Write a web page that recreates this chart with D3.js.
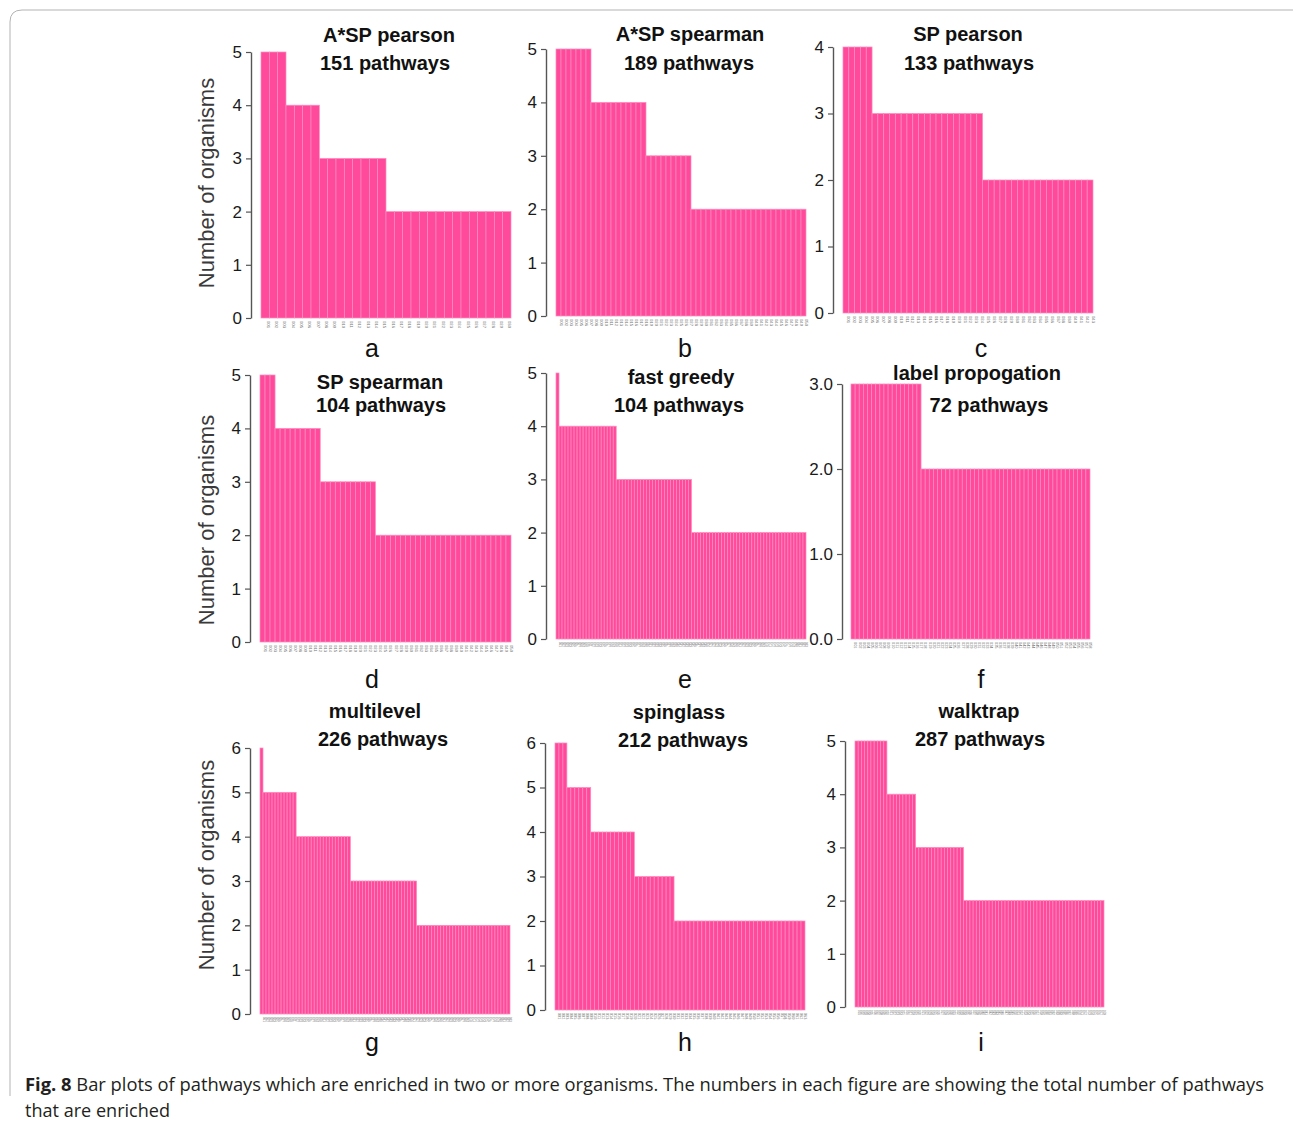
<!DOCTYPE html>
<html>
<head>
<meta charset="utf-8">
<script src="https://cdn.jsdelivr.net/npm/d3@7"></script>
<style>
  html, body { margin: 0; padding: 0; background: #fff; }
  svg { display: block; }
</style>
</head>
<body>
<svg id="fig" width="1293" height="1126"></svg>
<script>
// Panel titles and totals
const panelTitles = ["A*SP pearson", "A*SP spearman", "SP pearson",
                     "SP spearman", "fast greedy", "label propogation",
                     "multilevel", "spinglass", "walktrap"];
const pathwayTotals = [151, 189, 133, 104, 104, 72, 226, 212, 287];
const panelLetters = ["a", "b", "c", "d", "e", "f", "g", "h", "i"];

// Number of organisms per pathway, stored as runs of equal values (sorted descending)
const levelValues = [
  [5, 4, 3, 2],
  [5, 4, 3, 2],
  [4, 3, 2],
  [5, 4, 3, 2],
  [5, 4, 3, 2],
  [3, 2],
  [6, 5, 4, 3, 2],
  [6, 5, 4, 3, 2],
  [5, 4, 3, 2]
];
const levelCounts = [
  [3, 4, 8, 15],
  [7, 11, 9, 23],
  [5, 19, 19],
  [3, 9, 11, 27],
  [1, 19, 25, 38],
  [17, 41],
  [1, 11, 18, 22, 31],
  [3, 6, 11, 10, 33],
  [10, 9, 15, 44]
];

// Y axis tick values per panel
const yTicks = [
  [0, 1, 2, 3, 4, 5],
  [0, 1, 2, 3, 4, 5],
  [0, 1, 2, 3, 4],
  [0, 1, 2, 3, 4, 5],
  [0, 1, 2, 3, 4, 5],
  [0, 1, 2, 3],
  [0, 1, 2, 3, 4, 5, 6],
  [0, 1, 2, 3, 4, 5, 6],
  [0, 1, 2, 3, 4, 5]
];
const tickFormats = ["d", "d", "d", "d", "d", ".1f", "d", "d", "d"];

// Panel geometry
const layout = [
  {ax: 251, y0: 318, y1: 52,  bx0: 261, bx1: 511,  t1: [389, 42],  t2: [385, 70],  lt: [372, 357], ylab: 183},
  {ax: 546, y0: 316, y1: 49,  bx0: 556, bx1: 806,  t1: [690, 41],  t2: [689, 70],  lt: [685, 357]},
  {ax: 833, y0: 313, y1: 47,  bx0: 843, bx1: 1093, t1: [968, 41],  t2: [969, 70],  lt: [981, 357]},
  {ax: 250, y0: 642, y1: 375, bx0: 260, bx1: 511,  t1: [380, 389], t2: [381, 412], lt: [372, 688], ylab: 520},
  {ax: 546, y0: 639, y1: 373, bx0: 556, bx1: 806,  t1: [681, 384], t2: [679, 412], lt: [685, 688]},
  {ax: 842, y0: 639, y1: 384, bx0: 851, bx1: 1090, t1: [977, 380], t2: [989, 412], lt: [981, 688]},
  {ax: 250, y0: 1014, y1: 748, bx0: 260, bx1: 510, t1: [375, 718], t2: [383, 746], lt: [372, 1051], ylab: 865},
  {ax: 545, y0: 1010, y1: 743, bx0: 555, bx1: 805, t1: [679, 719], t2: [683, 747], lt: [685, 1051]},
  {ax: 845, y0: 1007, y1: 741, bx0: 855, bx1: 1104, t1: [979, 718], t2: [980, 746], lt: [981, 1051]}
];

const svg = d3.select("#fig");
const sans = "'Liberation Sans', Arial, Helvetica, sans-serif";

// Figure frame (rounded top-left corner)
svg.append("path")
  .attr("d", "M10,1096 L10,22 Q10,10 22,10 L1293,10")
  .attr("fill", "none")
  .attr("stroke", "#b3b3b3")
  .attr("stroke-width", 1);

panelTitles.forEach((title, i) => {
  const L = layout[i];
  const values = [];
  levelValues[i].forEach((v, k) => {
    for (let n = 0; n < levelCounts[i][k]; n++) values.push(v);
  });
  const ids = values.map((v, j) => String(j + 1).padStart(3, "0"));

  const g = svg.append("g");
  const ticks = yTicks[i];
  const y = d3.scaleLinear()
    .domain([0, ticks[ticks.length - 1]])
    .range([L.y0, L.y1]);
  const x = d3.scaleBand()
    .domain(ids)
    .range([L.bx0, L.bx1])
    .padding(0);

  // Bars
  g.append("g").selectAll("rect")
    .data(values)
    .join("rect")
    .attr("x", (d, j) => x(ids[j]))
    .attr("y", d => y(d))
    .attr("width", x.bandwidth())
    .attr("height", d => y(0) - y(d))
    .attr("fill", "#ff4a9b")
    .attr("stroke", "#ff8cbf")
    .attr("stroke-width", 0.7);

  // Y axis
  const axis = d3.axisLeft(y)
    .tickValues(ticks)
    .tickFormat(d3.format(tickFormats[i]))
    .tickSize(5)
    .tickSizeOuter(0)
    .tickPadding(4);
  const ag = g.append("g")
    .attr("transform", `translate(${L.ax},0)`)
    .attr("font-size", 17)
    .attr("font-family", sans)
    .call(axis);
  ag.select(".domain").attr("stroke", "#555").attr("stroke-width", 1.4);
  ag.selectAll(".tick line").attr("stroke", "#555").attr("stroke-width", 1.2);
  ag.selectAll(".tick text")
    .attr("fill", "#1a1a1a")
    .attr("font-size", 17);

  // Pathway identifiers under the bars
  const fs = Math.min(x.bandwidth() * 0.95, 4.2);
  g.append("g").selectAll("text")
    .data(ids)
    .join("text")
    .attr("transform", d => `translate(${x(d) + x.bandwidth() / 2 + fs * 0.35},${L.y0 + 3}) rotate(90)`)
    .attr("fill", "#707070")
    .style("font-family", sans)
    .style("font-size", fs + "px")
    .text(d => d);

  // Titles
  g.append("text")
    .attr("x", L.t1[0]).attr("y", L.t1[1])
    .attr("text-anchor", "middle")
    .attr("fill", "#111")
    .style("font-family", sans)
    .style("font-weight", "bold")
    .style("font-size", "20px")
    .text(title);
  g.append("text")
    .attr("x", L.t2[0]).attr("y", L.t2[1])
    .attr("text-anchor", "middle")
    .attr("fill", "#111")
    .style("font-family", sans)
    .style("font-weight", "bold")
    .style("font-size", "20px")
    .text(`${pathwayTotals[i]} pathways`);

  // Panel letter
  g.append("text")
    .attr("x", L.lt[0]).attr("y", L.lt[1])
    .attr("text-anchor", "middle")
    .attr("fill", "#111")
    .style("font-family", sans)
    .style("font-size", "25px")
    .text(panelLetters[i]);

  // Y axis label for the first column
  if (L.ylab !== undefined) {
    g.append("text")
      .attr("transform", `translate(214,${L.ylab}) rotate(-90)`)
      .attr("text-anchor", "middle")
      .attr("fill", "#3a3a3a")
      .style("font-family", sans)
      .style("font-size", "22px")
      .text("Number of organisms");
  }
});

// Caption
const cap = svg.append("text")
  .attr("x", 25).attr("y", 1091)
  .attr("fill", "#231f20")
  .style("font-family", "'Open Sans', sans-serif")
  .style("font-size", "18px")
  .attr("textLength", 1239)
  .attr("lengthAdjust", "spacingAndGlyphs");
cap.append("tspan").style("font-weight", "bold").text("Fig. 8");
cap.append("tspan").text(" Bar plots of pathways which are enriched in two or more organisms. The numbers in each figure are showing the total number of pathways");
svg.append("text")
  .attr("x", 25).attr("y", 1117)
  .attr("fill", "#231f20")
  .style("font-family", "'Open Sans', sans-serif")
  .style("font-size", "18px")
  .attr("textLength", 145)
  .attr("lengthAdjust", "spacingAndGlyphs")
  .text("that are enriched");
</script>
</body>
</html>
